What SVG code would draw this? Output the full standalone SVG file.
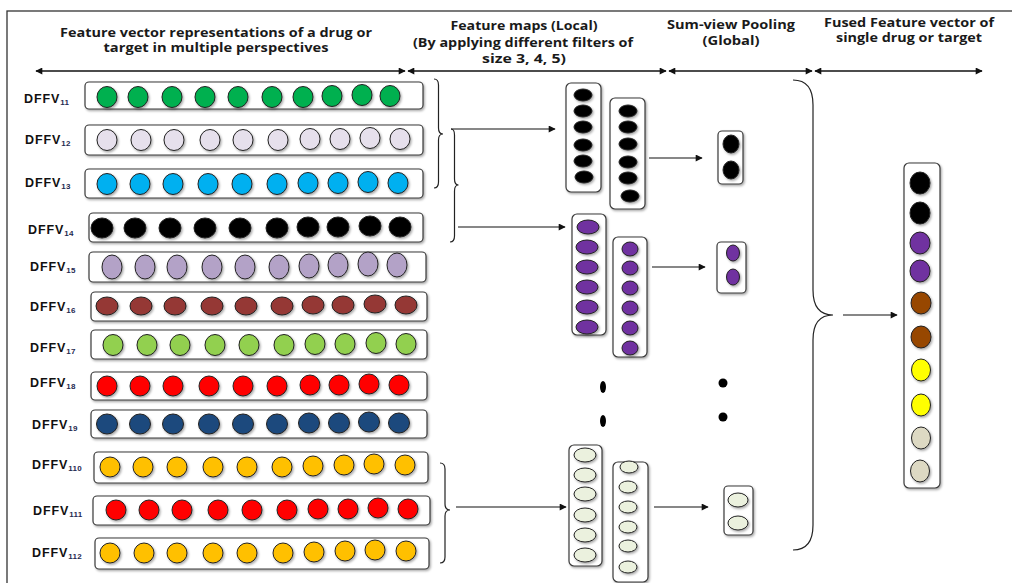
<svg xmlns="http://www.w3.org/2000/svg" width="1012" height="583" viewBox="0 0 1012 583">
  <defs>
    <filter id="sh" x="-30%" y="-30%" width="160%" height="160%">
      <feDropShadow dx="1.2" dy="1.5" stdDeviation="0.9" flood-color="#000" flood-opacity="0.35"/>
    </filter>
    <marker id="ah" viewBox="0 0 10 10" refX="9" refY="5" markerWidth="9" markerHeight="7" markerUnits="userSpaceOnUse" orient="auto-start-reverse">
      <path d="M0 0 L10 5 L0 10 z" fill="#111"/>
    </marker>
  </defs>
  <style>
    .hdr{font-family:"Open Sans","Liberation Sans",sans-serif;font-weight:700;font-size:12px;fill:#1a1a1a;text-anchor:middle}
    .lbl{font-family:"Liberation Sans",Arial,sans-serif;font-weight:700;font-size:12.5px;letter-spacing:0.9px;fill:#111}
    .sub{font-size:8px;letter-spacing:0.3px;fill:#1f2a50}
    .box{fill:#fff;stroke:#3a3a3a;stroke-width:1.2;filter:url(#sh)}
    .dot{stroke:#222;stroke-width:1;filter:url(#sh)}
    .dbl{stroke:#111;stroke-width:1.4;fill:none;marker-start:url(#ah);marker-end:url(#ah)}
    .arr{stroke:#111;stroke-width:1.2;fill:none;marker-end:url(#ah)}
    .br{stroke:#222;stroke-width:1.2;fill:none}
    .g1{fill:#00b050}.g2{fill:#e6e0ec}.g3{fill:#00b0f0}.g4{fill:#000}
    .g5{fill:#b3a2c7}.g6{fill:#953735}.g7{fill:#92d050}.g8{fill:#ff0000}
    .g9{fill:#1f497d}.g10{fill:#ffc000}.pu{fill:#7030a0}.pg{fill:#ebf1de}
    .bn{fill:#974706}.ye{fill:#ffff00}.tn{fill:#ddd9c3}
  </style>

  <rect x="7" y="11" width="1012" height="580" fill="#fff" stroke="#333" stroke-width="1.3"/>

  <!-- column headers -->
  <g id="headers">
    <text class="hdr" x="216" y="37" textLength="312" lengthAdjust="spacingAndGlyphs">Feature vector representations of a drug or</text>
    <text class="hdr" x="216" y="52" textLength="225" lengthAdjust="spacingAndGlyphs">target in multiple perspectives</text>
    <text class="hdr" x="524" y="30" textLength="147" lengthAdjust="spacingAndGlyphs">Feature maps (Local)</text>
    <text class="hdr" x="523" y="47" textLength="220" lengthAdjust="spacingAndGlyphs">(By applying different filters of</text>
    <text class="hdr" x="524" y="63" textLength="84" lengthAdjust="spacingAndGlyphs">size 3, 4, 5)</text>
    <text class="hdr" x="731" y="29" textLength="128" lengthAdjust="spacingAndGlyphs">Sum-view Pooling</text>
    <text class="hdr" x="731" y="45" textLength="57" lengthAdjust="spacingAndGlyphs">(Global)</text>
    <text class="hdr" x="909" y="27" textLength="170" lengthAdjust="spacingAndGlyphs">Fused Feature vector of</text>
    <text class="hdr" x="909" y="42" textLength="146" lengthAdjust="spacingAndGlyphs">single drug or target</text>
  </g>

  <!-- input feature vectors -->
  <g id="dffv11">
    <text class="lbl" x="24" y="103">DFFV<tspan class="sub" dy="2">11</tspan></text>
    <rect class="box" x="85" y="82" width="338" height="27" rx="4"/>
    <g class="g1">
      <ellipse class="dot" cx="107" cy="97" rx="10" ry="10.5"/><ellipse class="dot" cx="138" cy="97" rx="10" ry="10.5"/>
      <ellipse class="dot" cx="172" cy="97" rx="10" ry="10.5"/><ellipse class="dot" cx="205" cy="97" rx="10" ry="10.5"/>
      <ellipse class="dot" cx="238" cy="97" rx="10" ry="10.5"/><ellipse class="dot" cx="272" cy="97" rx="10" ry="10.5"/>
      <ellipse class="dot" cx="303" cy="97" rx="10" ry="10.5"/><ellipse class="dot" cx="332" cy="96" rx="10" ry="10.5"/>
      <ellipse class="dot" cx="362" cy="95" rx="10" ry="10.5"/><ellipse class="dot" cx="390" cy="96" rx="10" ry="10.5"/>
    </g>
  </g>
  <g id="dffv12">
    <text class="lbl" x="25" y="144">DFFV<tspan class="sub" dy="2">12</tspan></text>
    <rect class="box" x="85" y="125" width="338" height="30" rx="4"/>
    <g class="g2">
      <ellipse class="dot" cx="107" cy="140" rx="10" ry="10.5"/><ellipse class="dot" cx="141" cy="140" rx="10" ry="10.5"/>
      <ellipse class="dot" cx="174" cy="140" rx="10" ry="10.5"/><ellipse class="dot" cx="210" cy="140" rx="10" ry="10.5"/>
      <ellipse class="dot" cx="243" cy="140" rx="10" ry="10.5"/><ellipse class="dot" cx="278" cy="140" rx="10" ry="10.5"/>
      <ellipse class="dot" cx="310" cy="139" rx="10" ry="10.5"/><ellipse class="dot" cx="340" cy="139" rx="10" ry="10.5"/>
      <ellipse class="dot" cx="370" cy="138" rx="10" ry="10.5"/><ellipse class="dot" cx="400" cy="139" rx="10" ry="10.5"/>
    </g>
  </g>
  <g id="dffv13">
    <text class="lbl" x="25" y="187">DFFV<tspan class="sub" dy="2">13</tspan></text>
    <rect class="box" x="85" y="169" width="338" height="29" rx="4"/>
    <g class="g3">
      <ellipse class="dot" cx="107" cy="184" rx="10" ry="10.5"/><ellipse class="dot" cx="140" cy="184" rx="10" ry="10.5"/>
      <ellipse class="dot" cx="173" cy="184" rx="10" ry="10.5"/><ellipse class="dot" cx="208" cy="184" rx="10" ry="10.5"/>
      <ellipse class="dot" cx="242" cy="184" rx="10" ry="10.5"/><ellipse class="dot" cx="277" cy="184" rx="10" ry="10.5"/>
      <ellipse class="dot" cx="308" cy="183" rx="10" ry="10.5"/><ellipse class="dot" cx="338" cy="183" rx="10" ry="10.5"/>
      <ellipse class="dot" cx="368" cy="182" rx="10" ry="10.5"/><ellipse class="dot" cx="398" cy="183" rx="10" ry="10.5"/>
    </g>
  </g>
  <g id="dffv14">
    <text class="lbl" x="28" y="234">DFFV<tspan class="sub" dy="2">14</tspan></text>
    <rect class="box" x="89" y="213" width="334" height="29" rx="4"/>
    <g class="g4">
      <ellipse class="dot" cx="102" cy="228" rx="11" ry="10"/><ellipse class="dot" cx="135" cy="228" rx="11" ry="10"/>
      <ellipse class="dot" cx="170" cy="228" rx="11" ry="10"/><ellipse class="dot" cx="205" cy="228" rx="11" ry="10"/>
      <ellipse class="dot" cx="240" cy="228" rx="11" ry="10"/><ellipse class="dot" cx="277" cy="228" rx="11" ry="10"/>
      <ellipse class="dot" cx="308" cy="227" rx="11" ry="10"/><ellipse class="dot" cx="338" cy="227" rx="11" ry="10"/>
      <ellipse class="dot" cx="370" cy="226" rx="11" ry="10"/><ellipse class="dot" cx="400" cy="227" rx="11" ry="10"/>
    </g>
  </g>
  <g id="dffv15">
    <text class="lbl" x="30" y="271">DFFV<tspan class="sub" dy="2">15</tspan></text>
    <rect class="box" x="89" y="252" width="337" height="30" rx="4"/>
    <g class="g5">
      <ellipse class="dot" cx="112" cy="267" rx="10" ry="12"/><ellipse class="dot" cx="145" cy="267" rx="10" ry="12"/>
      <ellipse class="dot" cx="177" cy="267" rx="10" ry="12"/><ellipse class="dot" cx="212" cy="267" rx="10" ry="12"/>
      <ellipse class="dot" cx="245" cy="267" rx="10" ry="12"/><ellipse class="dot" cx="279" cy="267" rx="10" ry="12"/>
      <ellipse class="dot" cx="309" cy="266" rx="10" ry="12"/><ellipse class="dot" cx="338" cy="265" rx="10" ry="12"/>
      <ellipse class="dot" cx="368" cy="264" rx="10" ry="12"/><ellipse class="dot" cx="397" cy="265" rx="10" ry="12"/>
    </g>
  </g>
  <g id="dffv16">
    <text class="lbl" x="30" y="311">DFFV<tspan class="sub" dy="2">16</tspan></text>
    <rect class="box" x="91" y="292" width="336" height="29" rx="4"/>
    <g class="g6">
      <ellipse class="dot" cx="107" cy="306" rx="11" ry="9"/><ellipse class="dot" cx="141" cy="306" rx="11" ry="9"/>
      <ellipse class="dot" cx="175" cy="306" rx="11" ry="9"/><ellipse class="dot" cx="212" cy="306" rx="11" ry="9"/>
      <ellipse class="dot" cx="246" cy="306" rx="11" ry="9"/><ellipse class="dot" cx="282" cy="306" rx="11" ry="9"/>
      <ellipse class="dot" cx="313" cy="305" rx="11" ry="9"/><ellipse class="dot" cx="343" cy="305" rx="11" ry="9"/>
      <ellipse class="dot" cx="375" cy="304" rx="11" ry="9"/><ellipse class="dot" cx="406" cy="305" rx="11" ry="9"/>
    </g>
  </g>
  <g id="dffv17">
    <text class="lbl" x="30" y="352">DFFV<tspan class="sub" dy="2">17</tspan></text>
    <rect class="box" x="91" y="330" width="336" height="29" rx="4"/>
    <g class="g7">
      <ellipse class="dot" cx="113" cy="345" rx="10" ry="10.5"/><ellipse class="dot" cx="147" cy="345" rx="10" ry="10.5"/>
      <ellipse class="dot" cx="180" cy="345" rx="10" ry="10.5"/><ellipse class="dot" cx="215" cy="345" rx="10" ry="10.5"/>
      <ellipse class="dot" cx="249" cy="345" rx="10" ry="10.5"/><ellipse class="dot" cx="284" cy="345" rx="10" ry="10.5"/>
      <ellipse class="dot" cx="315" cy="344" rx="10" ry="10.5"/><ellipse class="dot" cx="345" cy="344" rx="10" ry="10.5"/>
      <ellipse class="dot" cx="376" cy="343" rx="10" ry="10.5"/><ellipse class="dot" cx="406" cy="344" rx="10" ry="10.5"/>
    </g>
  </g>
  <g id="dffv18">
    <text class="lbl" x="30" y="387">DFFV<tspan class="sub" dy="2">18</tspan></text>
    <rect class="box" x="91" y="372" width="336" height="28" rx="4"/>
    <g class="g8">
      <ellipse class="dot" cx="107" cy="386" rx="10" ry="10"/><ellipse class="dot" cx="140" cy="386" rx="10" ry="10"/>
      <ellipse class="dot" cx="173" cy="386" rx="10" ry="10"/><ellipse class="dot" cx="209" cy="386" rx="10" ry="10"/>
      <ellipse class="dot" cx="243" cy="386" rx="10" ry="10"/><ellipse class="dot" cx="277" cy="386" rx="10" ry="10"/>
      <ellipse class="dot" cx="310" cy="385" rx="10" ry="10"/><ellipse class="dot" cx="339" cy="385" rx="10" ry="10"/>
      <ellipse class="dot" cx="369" cy="384" rx="10" ry="10"/><ellipse class="dot" cx="399" cy="385" rx="10" ry="10"/>
    </g>
  </g>
  <g id="dffv19">
    <text class="lbl" x="32" y="429">DFFV<tspan class="sub" dy="2">19</tspan></text>
    <rect class="box" x="91" y="410" width="336" height="28" rx="4"/>
    <g class="g9">
      <ellipse class="dot" cx="107" cy="424" rx="10.5" ry="10"/><ellipse class="dot" cx="140" cy="424" rx="10.5" ry="10"/>
      <ellipse class="dot" cx="173" cy="424" rx="10.5" ry="10"/><ellipse class="dot" cx="209" cy="424" rx="10.5" ry="10"/>
      <ellipse class="dot" cx="243" cy="424" rx="10.5" ry="10"/><ellipse class="dot" cx="277" cy="424" rx="10.5" ry="10"/>
      <ellipse class="dot" cx="309" cy="423" rx="10.5" ry="10"/><ellipse class="dot" cx="339" cy="423" rx="10.5" ry="10"/>
      <ellipse class="dot" cx="369" cy="422" rx="10.5" ry="10"/><ellipse class="dot" cx="399" cy="423" rx="10.5" ry="10"/>
    </g>
  </g>
  <g id="dffv110">
    <text class="lbl" x="32" y="469">DFFV<tspan class="sub" dy="2">110</tspan></text>
    <rect class="box" x="94" y="452" width="334" height="31" rx="4"/>
    <g class="g10">
      <ellipse class="dot" cx="110" cy="467" rx="10" ry="10"/><ellipse class="dot" cx="143" cy="467" rx="10" ry="10"/>
      <ellipse class="dot" cx="177" cy="467" rx="10" ry="10"/><ellipse class="dot" cx="213" cy="467" rx="10" ry="10"/>
      <ellipse class="dot" cx="247" cy="467" rx="10" ry="10"/><ellipse class="dot" cx="282" cy="467" rx="10" ry="10"/>
      <ellipse class="dot" cx="313" cy="466" rx="10" ry="10"/><ellipse class="dot" cx="344" cy="465" rx="10" ry="10"/>
      <ellipse class="dot" cx="374" cy="464" rx="10" ry="10"/><ellipse class="dot" cx="405" cy="465" rx="10" ry="10"/>
    </g>
  </g>
  <g id="dffv111">
    <text class="lbl" x="33" y="515">DFFV<tspan class="sub" dy="2">111</tspan></text>
    <rect class="box" x="93" y="496" width="337" height="29" rx="4"/>
    <g class="g8">
      <ellipse class="dot" cx="116" cy="510" rx="10" ry="10"/><ellipse class="dot" cx="149" cy="510" rx="10" ry="10"/>
      <ellipse class="dot" cx="182" cy="510" rx="10" ry="10"/><ellipse class="dot" cx="218" cy="510" rx="10" ry="10"/>
      <ellipse class="dot" cx="252" cy="510" rx="10" ry="10"/><ellipse class="dot" cx="287" cy="510" rx="10" ry="10"/>
      <ellipse class="dot" cx="318" cy="509" rx="10" ry="10"/><ellipse class="dot" cx="348" cy="509" rx="10" ry="10"/>
      <ellipse class="dot" cx="378" cy="508" rx="10" ry="10"/><ellipse class="dot" cx="408" cy="509" rx="10" ry="10"/>
    </g>
  </g>
  <g id="dffv112">
    <text class="lbl" x="32" y="557">DFFV<tspan class="sub" dy="2">112</tspan></text>
    <rect class="box" x="95" y="538" width="334" height="31" rx="4"/>
    <g class="g10">
      <ellipse class="dot" cx="110" cy="553" rx="10" ry="10"/><ellipse class="dot" cx="144" cy="553" rx="10" ry="10"/>
      <ellipse class="dot" cx="177" cy="553" rx="10" ry="10"/><ellipse class="dot" cx="213" cy="553" rx="10" ry="10"/>
      <ellipse class="dot" cx="247" cy="553" rx="10" ry="10"/><ellipse class="dot" cx="283" cy="553" rx="10" ry="10"/>
      <ellipse class="dot" cx="314" cy="552" rx="10" ry="10"/><ellipse class="dot" cx="345" cy="551" rx="10" ry="10"/>
      <ellipse class="dot" cx="375" cy="550" rx="10" ry="10"/><ellipse class="dot" cx="406" cy="551" rx="10" ry="10"/>
    </g>
  </g>

  <!-- local feature maps -->
  <g id="map-black">
    <rect class="box" x="566" y="83" width="35" height="109" rx="5"/>
    <g class="g4">
      <ellipse class="dot" cx="583" cy="95" rx="9" ry="6"/><ellipse class="dot" cx="583" cy="111" rx="9" ry="6"/>
      <ellipse class="dot" cx="583" cy="127" rx="9" ry="6"/><ellipse class="dot" cx="583" cy="145" rx="9" ry="6"/>
      <ellipse class="dot" cx="583" cy="161" rx="9" ry="6"/><ellipse class="dot" cx="584" cy="177" rx="9" ry="6"/>
    </g>
    <rect class="box" x="610" y="98" width="35" height="111" rx="5"/>
    <g class="g4">
      <ellipse class="dot" cx="628" cy="111" rx="9" ry="6"/><ellipse class="dot" cx="628" cy="127" rx="9" ry="6"/>
      <ellipse class="dot" cx="628" cy="144" rx="9" ry="6"/><ellipse class="dot" cx="628" cy="162" rx="9" ry="6"/>
      <ellipse class="dot" cx="628" cy="178" rx="9" ry="6"/><ellipse class="dot" cx="630" cy="196" rx="9" ry="6"/>
    </g>
  </g>
  <g id="map-purple">
    <rect class="box" x="572" y="214" width="34" height="121" rx="5"/>
    <g class="pu">
      <ellipse class="dot" cx="588" cy="227" rx="11" ry="7"/><ellipse class="dot" cx="587" cy="247" rx="11" ry="7"/>
      <ellipse class="dot" cx="587" cy="267" rx="11" ry="7"/><ellipse class="dot" cx="587" cy="287" rx="11" ry="7"/>
      <ellipse class="dot" cx="587" cy="307" rx="11" ry="7"/><ellipse class="dot" cx="587" cy="327" rx="11" ry="7"/>
    </g>
    <rect class="box" x="613" y="237" width="34" height="120" rx="5"/>
    <g class="pu">
      <ellipse class="dot" cx="630" cy="249" rx="8" ry="7"/><ellipse class="dot" cx="630" cy="268" rx="8" ry="7"/>
      <ellipse class="dot" cx="630" cy="288" rx="8" ry="7"/><ellipse class="dot" cx="630" cy="308" rx="8" ry="7"/>
      <ellipse class="dot" cx="630" cy="328" rx="8" ry="7"/><ellipse class="dot" cx="630" cy="348" rx="8" ry="7"/>
    </g>
  </g>
  <g id="map-ellipsis">
    <ellipse cx="603" cy="387" rx="3" ry="6" fill="#000"/>
    <ellipse cx="603" cy="421" rx="3" ry="6" fill="#000"/>
  </g>
  <g id="map-pale">
    <rect class="box" x="569" y="445" width="33" height="121" rx="5"/>
    <g class="pg">
      <ellipse class="dot" cx="585" cy="455" rx="11" ry="7"/><ellipse class="dot" cx="585" cy="475" rx="11" ry="7"/>
      <ellipse class="dot" cx="585" cy="494" rx="11" ry="7"/><ellipse class="dot" cx="585" cy="515" rx="11" ry="7"/>
      <ellipse class="dot" cx="585" cy="535" rx="11" ry="7"/><ellipse class="dot" cx="585" cy="555" rx="11" ry="7"/>
    </g>
    <rect class="box" x="613" y="462" width="35" height="120" rx="5"/>
    <g class="pg">
      <ellipse class="dot" cx="629" cy="467" rx="9" ry="6"/><ellipse class="dot" cx="628" cy="487" rx="9" ry="6"/>
      <ellipse class="dot" cx="628" cy="507" rx="9" ry="6"/><ellipse class="dot" cx="628" cy="527" rx="9" ry="6"/>
      <ellipse class="dot" cx="628" cy="546" rx="9" ry="6"/><ellipse class="dot" cx="628" cy="567" rx="9" ry="6"/>
    </g>
  </g>

  <!-- pooled vectors -->
  <g id="pool-black">
    <rect class="box" x="718" y="131" width="25" height="53" rx="4"/>
    <ellipse class="dot g4" cx="731" cy="144" rx="8" ry="9"/>
    <ellipse class="dot g4" cx="731" cy="170" rx="8" ry="9"/>
  </g>
  <g id="pool-purple">
    <rect class="box" x="717" y="242" width="29" height="51" rx="4"/>
    <ellipse class="dot pu" cx="733" cy="253" rx="6.5" ry="8"/>
    <ellipse class="dot pu" cx="733" cy="277" rx="6.5" ry="8"/>
  </g>
  <g id="pool-ellipsis">
    <circle cx="723" cy="383" r="4.5" fill="#000"/>
    <circle cx="723" cy="417" r="4.5" fill="#000"/>
  </g>
  <g id="pool-pale">
    <rect class="box" x="724" y="486" width="29" height="49" rx="4"/>
    <ellipse class="dot pg" cx="738" cy="500" rx="10" ry="7"/>
    <ellipse class="dot pg" cx="738" cy="523" rx="10" ry="7"/>
  </g>

  <!-- fused output vector -->
  <g id="fused">
    <rect class="box" x="904" y="163" width="36" height="325" rx="5"/>
    <ellipse class="dot g4" cx="920" cy="183" rx="10" ry="11"/>
    <ellipse class="dot g4" cx="920" cy="213" rx="10" ry="11"/>
    <ellipse class="dot pu" cx="920" cy="243" rx="10" ry="11"/>
    <ellipse class="dot pu" cx="920" cy="271" rx="10" ry="11"/>
    <ellipse class="dot bn" cx="921" cy="303" rx="10" ry="11"/>
    <ellipse class="dot bn" cx="921" cy="337" rx="10" ry="11"/>
    <ellipse class="dot ye" cx="921" cy="370" rx="9.5" ry="11"/>
    <ellipse class="dot ye" cx="921" cy="405" rx="9.5" ry="11"/>
    <ellipse class="dot tn" cx="921" cy="438" rx="9.5" ry="11"/>
    <ellipse class="dot tn" cx="920" cy="471" rx="9.5" ry="11"/>
  </g>

  <!-- connectors -->
  <g id="connectors">
    <line class="dbl" x1="36" y1="71" x2="405" y2="71"/>
    <line class="dbl" x1="408" y1="71" x2="666" y2="71"/>
    <line class="dbl" x1="669" y1="71" x2="812" y2="71"/>
    <line class="dbl" x1="815" y1="71" x2="982" y2="71"/>

    <path class="br" d="M434 79 Q438.5 79 438.5 85 L438.5 128 Q438.5 134 443 134 Q438.5 134 438.5 140 L438.5 182 Q438.5 188 434 188"/>
    <path class="br" d="M451 129 Q454.5 129 454.5 135 L454.5 179 Q454.5 185 458.5 185 Q454.5 185 454.5 191 L454.5 236 Q454.5 242 450 242"/>
    <path class="br" d="M440 463 Q445 463 445 469 L445 504 Q445 510 450 510 Q445 510 445 516 L445 557 Q445 563 440 563"/>
    <path class="br" d="M793 80 Q813 80 813 105 L813 290 Q813 315 833 315 Q813 315 813 340 L813 525 Q813 550 793 550"/>

    <line class="arr" x1="451" y1="129" x2="555" y2="129"/>
    <line class="arr" x1="458" y1="227" x2="565" y2="227"/>
    <line class="arr" x1="456" y1="507" x2="566" y2="507"/>
    <line class="arr" x1="649" y1="158" x2="702" y2="158"/>
    <line class="arr" x1="652" y1="267" x2="705" y2="267"/>
    <line class="arr" x1="654" y1="507" x2="708" y2="507"/>
    <line class="arr" x1="843" y1="315" x2="897" y2="315"/>
  </g>
</svg>
